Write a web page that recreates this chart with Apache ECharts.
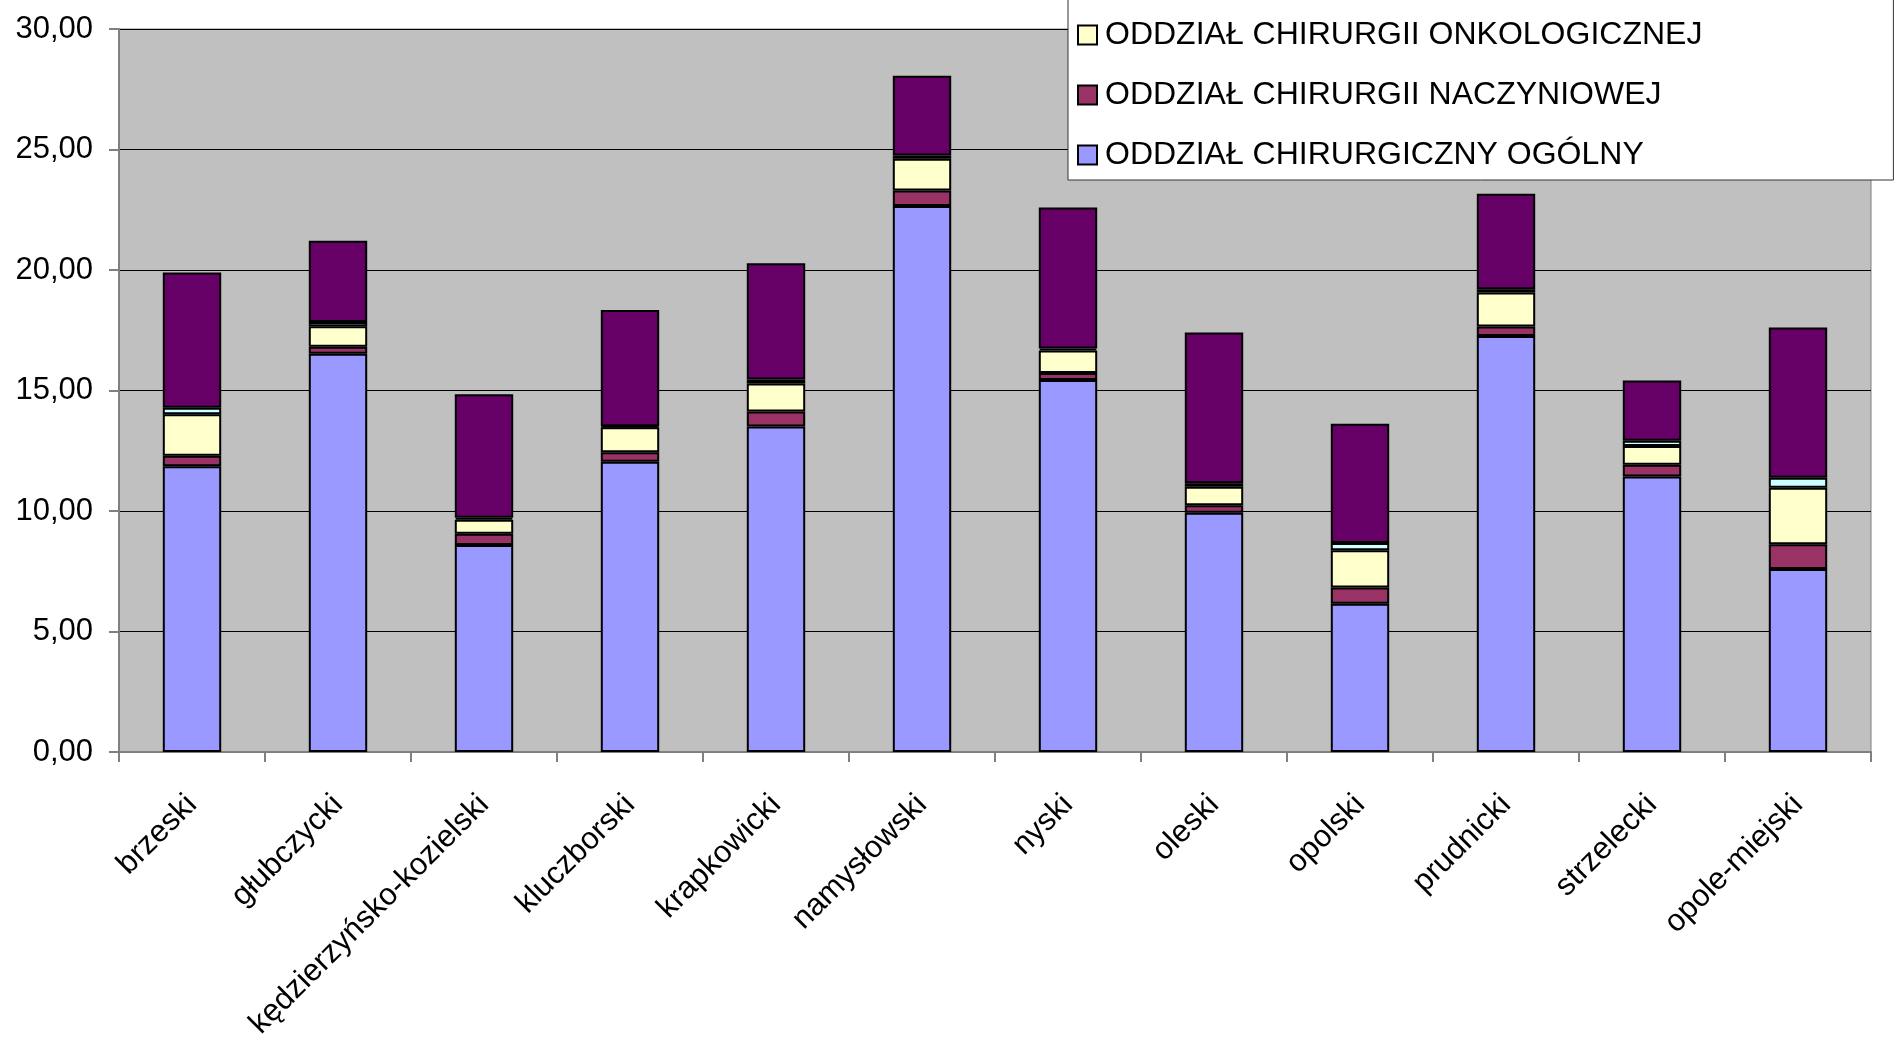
<!DOCTYPE html>
<html>
<head>
<meta charset="utf-8">
<script src="https://cdn.jsdelivr.net/npm/echarts@6/dist/echarts.min.js"></script>
<style>
html,body{margin:0;padding:0;background:#fff;}
#c{width:1895px;height:1040px;}
</style>
</head>
<body>
<div id="c"></div>
<script>
var categories = ['brzeski','głubczycki','kędzierzyńsko-kozielski','kluczborski','krapkowicki','namysłowski','nyski','oleski','opolski','prudnicki','strzelecki','opole-miejski'];
var seriesNames = ['ODDZIAŁ CHIRURGICZNY OGÓLNY','ODDZIAŁ CHIRURGII NACZYNIOWEJ','ODDZIAŁ CHIRURGII ONKOLOGICZNEJ','ODDZIAŁ CHIRURGII PLASTYCZNEJ','ODDZIAŁ CHIRURGII URAZOWO-ORTOPEDYCZNEJ'];
var ogolny      = [11.86, 16.53, 8.59, 12.04, 13.51, 22.66, 15.44, 9.93, 6.15, 17.26, 11.43, 7.59];
var naczyniowa  = [0.43, 0.29, 0.47, 0.40, 0.62, 0.64, 0.29, 0.31, 0.68, 0.40, 0.49, 1.03];
var onkologiczna= [1.72, 0.85, 0.58, 1.03, 1.16, 1.32, 0.93, 0.77, 1.54, 1.41, 0.78, 2.34];
var czwarta     = [0.27, 0.17, 0.08, 0.05, 0.17, 0.13, 0.08, 0.14, 0.30, 0.13, 0.22, 0.42];
var piata       = [5.62, 3.37, 5.12, 4.82, 4.82, 3.31, 5.85, 6.26, 4.95, 3.96, 2.49, 6.23];
var legendNames = [seriesNames[2], seriesNames[1], seriesNames[0]];

var colors = ['#9999FF','#993366','#FFFFCC','#CCFFFF','#660066'];
var values = [ogolny, naczyniowa, onkologiczna, czwarta, piata];
var FONT = "'Liberation Sans', Arial, sans-serif";

var chart = echarts.init(document.getElementById('c'));
var series = values.map(function(v, i){
  return {
    name: seriesNames[i],
    type: 'bar',
    stack: 'total',
    barWidth: '40%',
    data: v,
    itemStyle: {color: colors[i], borderColor: '#000', borderWidth: 2},
    emphasis: {disabled: true}
  };
});
chart.setOption({
  animation: false,
  backgroundColor: '#fff',
  grid: {left: 119, right: 24, top: 29, bottom: 288, outerBoundsMode: 'none', containLabel: false,
         show: true, backgroundColor: '#C0C0C0', borderColor: '#808080', borderWidth: 1},
  legend: {
    data: legendNames,
    orient: 'vertical',
    left: 1068,
    top: -4,
    padding: [23, 191, 9, 9],
    itemGap: 28,
    itemWidth: 19,
    itemHeight: 19,
    icon: 'rect',
    backgroundColor: '#fff',
    borderColor: '#333',
    borderWidth: 1,
    textStyle: {fontFamily: FONT, fontSize: 32, color: '#000', padding: [0, 0, 0, 3]},
    itemStyle: {borderColor: '#000', borderWidth: 2}
  },
  xAxis: {
    type: 'category',
    data: categories,
    axisLine: {lineStyle: {color: '#808080', width: 2}},
    axisTick: {show: true, length: 10, lineStyle: {color: '#808080', width: 2}},
    axisLabel: {rotate: 45, interval: 0, margin: 48, fontFamily: FONT, fontSize: 31, color: '#000'}
  },
  yAxis: {
    type: 'value',
    min: 0, max: 30, interval: 5,
    axisLine: {show: true, lineStyle: {color: '#808080', width: 2}},
    axisTick: {show: true, length: 10, lineStyle: {color: '#808080', width: 2}},
    splitLine: {lineStyle: {color: '#000', width: 1}},
    axisLabel: {margin: 26, fontFamily: FONT, fontSize: 31, color: '#000',
      formatter: function(v){ return v.toFixed(2).replace('.', ','); }}
  },
  series: series
});
</script>
</body>
</html>
